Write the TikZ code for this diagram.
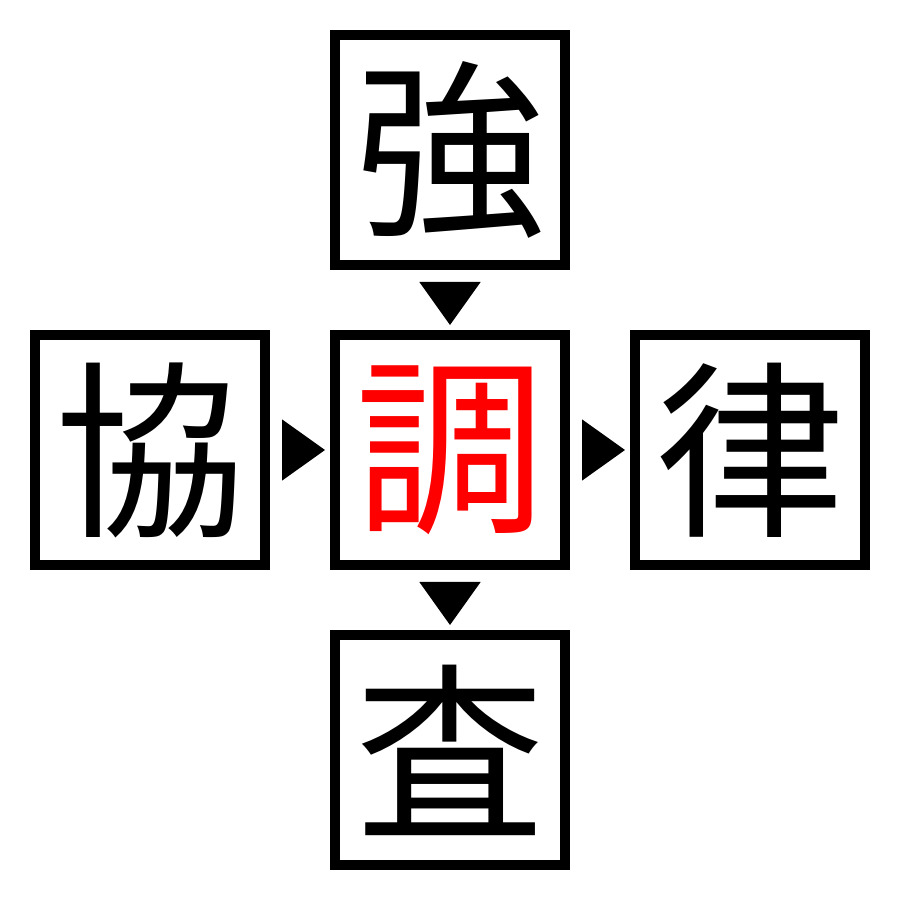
\documentclass[tikz,border=0pt]{standalone}
\usepackage{fontspec}
\newfontfamily\cjk{Noto Sans CJK JP}
\usepackage{tikz}
\usetikzlibrary{arrows.meta,positioning}

\begin{document}
\begin{tikzpicture}[>={Triangle[length=0.43cm,width=0.61cm]}, node distance=0.6cm,
	every node/.style={draw,line width=0.1cm,minimum size=2.3cm,inner sep=0pt,outer sep=0.05cm,font=\cjk\fontsize{54}{54}\selectfont},
	link/.style={->,shorten <=0.12cm,shorten >=0.05cm}]
	\useasboundingbox (0,0) rectangle (9,9);
	\node (kC) at (4.5,4.5) [text=red] {調};
	\node (kT) [above=of kC] {強};
	\node (kL) [left=of kC] {協};
	\node (kR) [right=of kC] {律};
	\node (kB) [below=of kC] {査};

	\draw[link] (kT) -- (kC);
	\draw[link] (kL) -- (kC);
	\draw[link] (kC) -- (kR);
	\draw[link] (kC) -- (kB);
\end{tikzpicture}
\end{document}
